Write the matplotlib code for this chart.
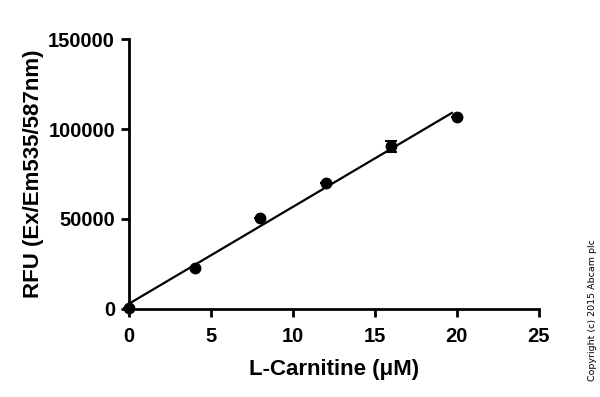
import numpy as np
import matplotlib
matplotlib.use("Agg")
import matplotlib.pyplot as plt

# L-Carnitine standard curve
conc = np.array([0, 4, 8, 12, 16, 20])
rfu = np.array([500, 22500, 50500, 70000, 90500, 106500])
rfu_err = np.array([0, 0, 0, 0, 3000, 0])
fit_end = 19.7

plt.rcParams["font.family"] = ["Liberation Sans", "DejaVu Sans"]
plt.rcParams["font.weight"] = "bold"

fig = plt.figure(figsize=(6, 3.97), dpi=100)
ax = fig.add_axes([0.215, 0.2217, 0.683, 0.680])

slope, intercept = np.polyfit(conc, rfu, 1)
xs = np.array([0, fit_end])
ax.plot(xs, slope * xs + intercept, color="black", lw=1.6, zorder=2)
ax.errorbar(conc, rfu, yerr=rfu_err, fmt="o", color="black", ms=7.5,
            capsize=4, elinewidth=1.5, capthick=1.5, zorder=3, clip_on=False)

ax.set_xlim(0, 25)
ax.set_ylim(0, 150000)
ax.set_xticks([0, 5, 10, 15, 20, 25])
ax.set_yticks([0, 50000, 100000, 150000])
for s in ["top", "right"]:
    ax.spines[s].set_visible(False)
for s in ["left", "bottom"]:
    ax.spines[s].set_linewidth(2)
ax.tick_params(direction="out", length=6, width=2, labelsize=14.5, pad=4)
ax.tick_params(axis="x", pad=7)
for lab in ax.get_xticklabels() + ax.get_yticklabels():
    lab.set_fontweight("bold")

ax.set_xlabel("L-Carnitine (\u03bcM)", fontsize=16, fontweight="bold", labelpad=9)
ax.set_ylabel("RFU (Ex/Em535/587nm)", fontsize=16, fontweight="bold", labelpad=3)

fig.text(0.988, 0.04, "Copyright (c) 2015 Abcam plc", rotation=90, fontsize=6.8,
         fontweight="normal", ha="center", va="bottom", family="DejaVu Sans")

fig.savefig("out.png", dpi=100)
